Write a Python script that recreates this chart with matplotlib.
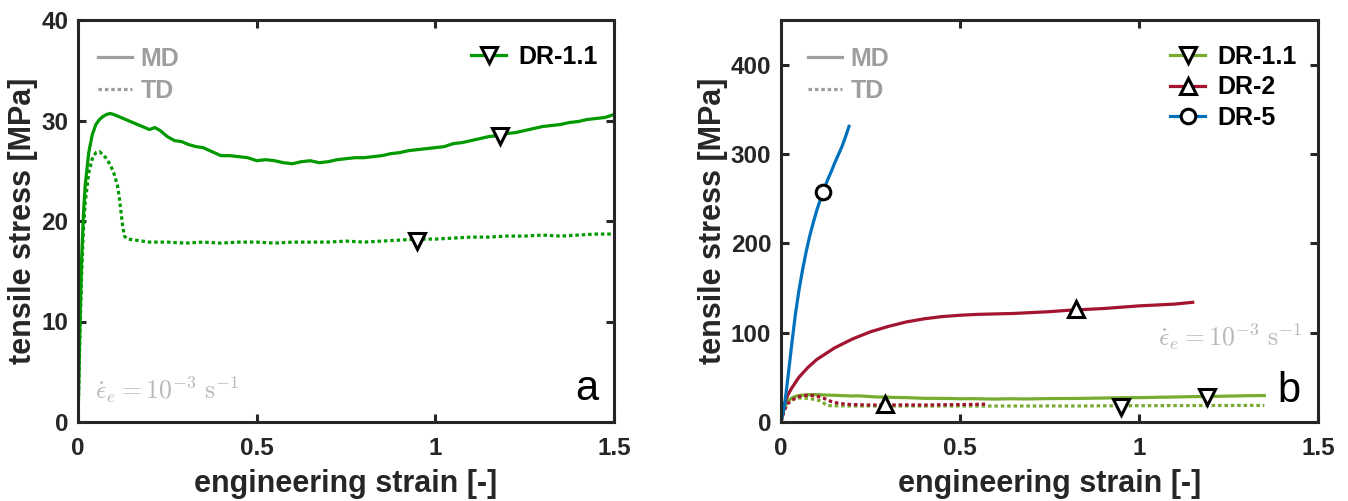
import numpy as np
import matplotlib
matplotlib.use("Agg")
import matplotlib.pyplot as plt
from matplotlib.lines import Line2D

plt.rcParams['font.family'] = ['Liberation Sans', 'DejaVu Sans']
plt.rcParams['mathtext.fontset'] = 'cm'

# ---------------- data ----------------
# DR-1.1, machine direction (MD)
strain_dr11_md = [0.000, 0.005, 0.010, 0.015, 0.020, 0.030, 0.040, 0.050, 0.060, 0.070,
                  0.080, 0.090, 0.100, 0.120, 0.140, 0.160, 0.180, 0.200, 0.215, 0.230,
                  0.250, 0.270, 0.290, 0.310, 0.330, 0.350, 0.375, 0.400, 0.425, 0.450,
                  0.475, 0.500, 0.525, 0.550, 0.575, 0.600, 0.625, 0.650, 0.675, 0.700,
                  0.725, 0.750, 0.775, 0.800, 0.825, 0.850, 0.875, 0.900, 0.925, 0.950,
                  0.975, 1.000, 1.025, 1.050, 1.075, 1.100, 1.125, 1.150, 1.175, 1.200,
                  1.225, 1.250, 1.275, 1.300, 1.325, 1.350, 1.375, 1.400, 1.425, 1.450,
                  1.475, 1.500]
stress_dr11_md = [0.0, 9.0, 16.0, 20.5, 23.5, 26.8, 28.6, 29.6, 30.1, 30.4,
                  30.6, 30.7, 30.6, 30.3, 30.0, 29.7, 29.4, 29.1, 29.3, 29.0,
                  28.4, 28.0, 27.9, 27.6, 27.4, 27.3, 26.9, 26.5, 26.5, 26.4,
                  26.3, 26.0, 26.1, 26.0, 25.8, 25.7, 25.9, 26.0, 25.8, 25.9,
                  26.1, 26.2, 26.3, 26.3, 26.4, 26.5, 26.7, 26.8, 27.0, 27.1,
                  27.2, 27.3, 27.4, 27.7, 27.8, 28.0, 28.2, 28.4, 28.5, 28.7,
                  28.8, 29.0, 29.2, 29.4, 29.5, 29.6, 29.8, 29.9, 30.1, 30.2,
                  30.3, 30.6]

# DR-1.1, transverse direction (TD)
strain_dr11_td = [0.000, 0.005, 0.010, 0.015, 0.020, 0.030, 0.040, 0.050, 0.060, 0.070,
                  0.080, 0.090, 0.100, 0.110, 0.115, 0.120, 0.125, 0.130, 0.135, 0.140,
                  0.160, 0.180, 0.200, 0.250, 0.300, 0.350, 0.400, 0.450, 0.500, 0.550,
                  0.600, 0.650, 0.700, 0.750, 0.800, 0.850, 0.900, 0.950, 1.000, 1.050,
                  1.100, 1.150, 1.200, 1.250, 1.300, 1.350, 1.400, 1.450, 1.500]
stress_dr11_td = [0.0, 8.0, 14.5, 19.0, 21.8, 24.8, 26.2, 26.8, 26.9, 26.6,
                  26.2, 25.6, 24.8, 23.6, 22.5, 21.0, 19.5, 18.5, 18.3, 18.2,
                  18.1, 18.0, 17.9, 17.9, 17.8, 17.9, 17.8, 17.9, 17.9, 17.8,
                  17.9, 17.9, 17.9, 18.0, 17.9, 18.0, 18.1, 18.2, 18.2, 18.3,
                  18.4, 18.4, 18.5, 18.5, 18.6, 18.5, 18.6, 18.7, 18.7]

# DR-2
strain_dr2_md = [0.000, 0.005, 0.010, 0.020, 0.030, 0.050, 0.075, 0.100, 0.150, 0.200,
                 0.250, 0.300, 0.350, 0.400, 0.450, 0.500, 0.550, 0.600, 0.650, 0.700,
                 0.750, 0.800, 0.850, 0.900, 0.950, 1.000, 1.050, 1.100, 1.150]
stress_dr2_md = [0.0, 12.0, 21.0, 31.0, 38.0, 50.0, 61.0, 70.0, 83.0, 93.0,
                 101.0, 107.0, 112.0, 115.5, 118.0, 119.5, 120.5, 121.0, 121.5, 122.5,
                 123.5, 125.0, 126.0, 127.0, 128.5, 130.0, 131.0, 132.0, 134.0]
strain_dr2_td = [0.00, 0.01, 0.02, 0.04, 0.06, 0.08, 0.10, 0.12, 0.14, 0.16,
                 0.18, 0.20, 0.25, 0.30, 0.35, 0.40, 0.45, 0.50, 0.55, 0.57]
stress_dr2_td = [0.0, 14.0, 21.0, 27.0, 29.5, 30.0, 29.0, 26.5, 23.0, 21.0,
                 20.0, 19.5, 19.0, 19.0, 19.2, 19.0, 19.3, 19.5, 19.8, 20.0]

# DR-5
strain_dr5_md = [0.00, 0.01, 0.02, 0.03, 0.04, 0.05, 0.06, 0.07, 0.08, 0.09,
                 0.10, 0.11, 0.12, 0.13, 0.14, 0.15, 0.16, 0.17, 0.18, 0.19]
stress_dr5_md = [0.0, 19.0, 52.0, 87.0, 120.0, 147.0, 170.0, 190.0, 208.0, 223.0,
                 237.0, 249.0, 260.0, 271.0, 280.0, 290.0, 299.0, 308.0, 319.0, 331.0]

# marker positions (strain, stress)
mk_dr11_md = (1.18, 28.5)
mk_dr11_td = (0.95, 18.0)
mk_dr11_md_b = (1.19, 27.5)
mk_dr11_td_b = (0.95, 17.0)
mk_dr2_md = (0.825, 126.0)
mk_dr2_td = (0.29, 20.5)
mk_dr5_md = (0.117, 258.0)

strain_cut_b = 1.35  # DR-1.1 curves shown up to this strain in panel b

xticks = [0, 0.5, 1, 1.5]
xticklabels = ['0', '0.5', '1', '1.5']
yticks_a = [0, 10, 20, 30, 40]
yticks_b = [0, 100, 200, 300, 400]

# ---------------- styles ----------------
c_dr11_a = (0.0, 0.6, 0.0)
c_dr11 = (0.467, 0.675, 0.188)
c_dr2 = (0.635, 0.078, 0.184)
c_dr5 = (0.0, 0.447, 0.741)
c_gray = (0.62, 0.62, 0.62)
c_axis = (0.15, 0.15, 0.15)
c_note = (0.72, 0.72, 0.72)
dotted = (0, (1.1, 0.9))
lw = 2.3
mk = dict(markersize=12, markerfacecolor='white', markeredgecolor='black',
          markeredgewidth=2.2, linestyle='none', zorder=5)
mk_leg = dict(markerfacecolor='white', markeredgecolor='black', markeredgewidth=2.2)
leg_prop = dict(size=18, weight='bold')

W, H = 1348, 501
fig = plt.figure(figsize=(W / 100, H / 100), dpi=100)
ax_a = fig.add_axes([78 / W, 79 / H, 536 / W, 402 / H])
ax_b = fig.add_axes([781 / W, 79 / H, 537 / W, 402 / H])

tick_font = dict(fontsize=17.5, fontweight='bold')
label_font = dict(fontsize=22, fontweight='bold', color=c_axis)


def style_axes(ax, yticks, ylim):
    ax.set_xlim(0, 1.5)
    ax.set_ylim(*ylim)
    ax.set_xticks(xticks)
    ax.set_xticklabels(xticklabels, **tick_font)
    ax.set_yticks(yticks)
    ax.set_yticklabels([str(v) for v in yticks], **tick_font)
    ax.tick_params(direction='in', length=6, width=2.2, colors=c_axis,
                   top=True, right=True, pad=7)
    ax.tick_params(axis='x', pad=11)
    for s in ax.spines.values():
        s.set_linewidth(2.2)
        s.set_color(c_axis)
    ax.set_xlabel('engineering strain [-]', labelpad=6, **label_font)
    ax.set_ylabel('tensile stress [MPa]', labelpad=2, **label_font)


def gray_legend(ax, x0):
    handles = [Line2D([], [], color=c_gray, lw=lw, linestyle='-'),
               Line2D([], [], color=c_gray, lw=lw, linestyle=dotted)]
    leg = ax.legend(handles, ['MD', 'TD'], loc='upper left', bbox_to_anchor=(x0, 0.99),
                    frameon=False, handlelength=1.35, handletextpad=0.35,
                    labelspacing=0.33, prop=leg_prop)
    for t in leg.get_texts():
        t.set_color(c_gray)
    ax.add_artist(leg)


rate_text = r'$\dot{\epsilon}_e = 10^{-3}\ \mathrm{s}^{-1}$'

# ---------------- panel a ----------------
ax_a.plot(strain_dr11_md, stress_dr11_md, color=c_dr11_a, lw=lw)
ax_a.plot(strain_dr11_td, stress_dr11_td, color=c_dr11_a, lw=lw, linestyle=dotted)
ax_a.plot(*mk_dr11_md, marker='v', **mk)
ax_a.plot(*mk_dr11_td, marker='v', **mk)
style_axes(ax_a, yticks_a, (0, 40))
gray_legend(ax_a, -0.004)
h_a = [Line2D([], [], color=c_dr11_a, lw=lw, marker='v', markersize=12, **mk_leg)]
ax_a.legend(h_a, ['DR-1.1'], loc='upper right', bbox_to_anchor=(1.012, 0.995),
            frameon=False, handlelength=1.4, handletextpad=0.5, numpoints=1,
            prop=leg_prop)
ax_a.text(0.032, 0.057, rate_text, transform=ax_a.transAxes, fontsize=18.5,
          color=c_note, ha='left', va='baseline')
ax_a.text(0.97, 0.055, 'a', transform=ax_a.transAxes, fontsize=30,
          ha='right', va='baseline', color='black')

# ---------------- panel b ----------------
s_md = np.array(strain_dr11_md)
s_td = np.array(strain_dr11_td)
m_md = s_md <= strain_cut_b
m_td = s_td <= strain_cut_b
ax_b.plot(s_md[m_md], np.array(stress_dr11_md)[m_md], color=c_dr11, lw=lw)
ax_b.plot(s_td[m_td], np.array(stress_dr11_td)[m_td], color=c_dr11, lw=lw, linestyle=dotted)
ax_b.plot(strain_dr2_md, stress_dr2_md, color=c_dr2, lw=lw)
ax_b.plot(strain_dr2_td, stress_dr2_td, color=c_dr2, lw=lw, linestyle=dotted)
ax_b.plot(strain_dr5_md, stress_dr5_md, color=c_dr5, lw=lw)
ax_b.plot(*mk_dr11_md_b, marker='v', **mk)
ax_b.plot(*mk_dr11_td_b, marker='v', **mk)
ax_b.plot(*mk_dr2_md, marker='^', **mk)
ax_b.plot(*mk_dr2_td, marker='^', **mk)
ax_b.plot(*mk_dr5_md, marker='o', **dict(mk, markersize=10.5))
style_axes(ax_b, yticks_b, (0, 450))
gray_legend(ax_b, 0.009)
h_b = [Line2D([], [], color=c_dr11, lw=lw, marker='v', markersize=12, **mk_leg),
       Line2D([], [], color=c_dr2, lw=lw, marker='^', markersize=12, **mk_leg),
       Line2D([], [], color=c_dr5, lw=lw, marker='o', markersize=10.5, **mk_leg)]
ax_b.legend(h_b, ['DR-1.1', 'DR-2', 'DR-5'], loc='upper right', bbox_to_anchor=(1.003, 0.995),
            frameon=False, handlelength=1.4, handletextpad=0.5, numpoints=1,
            labelspacing=0.27, prop=leg_prop)
ax_b.text(0.97, 0.189, rate_text, transform=ax_b.transAxes, fontsize=18.5,
          color=c_note, ha='right', va='baseline')
ax_b.text(0.967, 0.05, 'b', transform=ax_b.transAxes, fontsize=30,
          ha='right', va='baseline', color='black')

fig.savefig('out.png', dpi=100)
